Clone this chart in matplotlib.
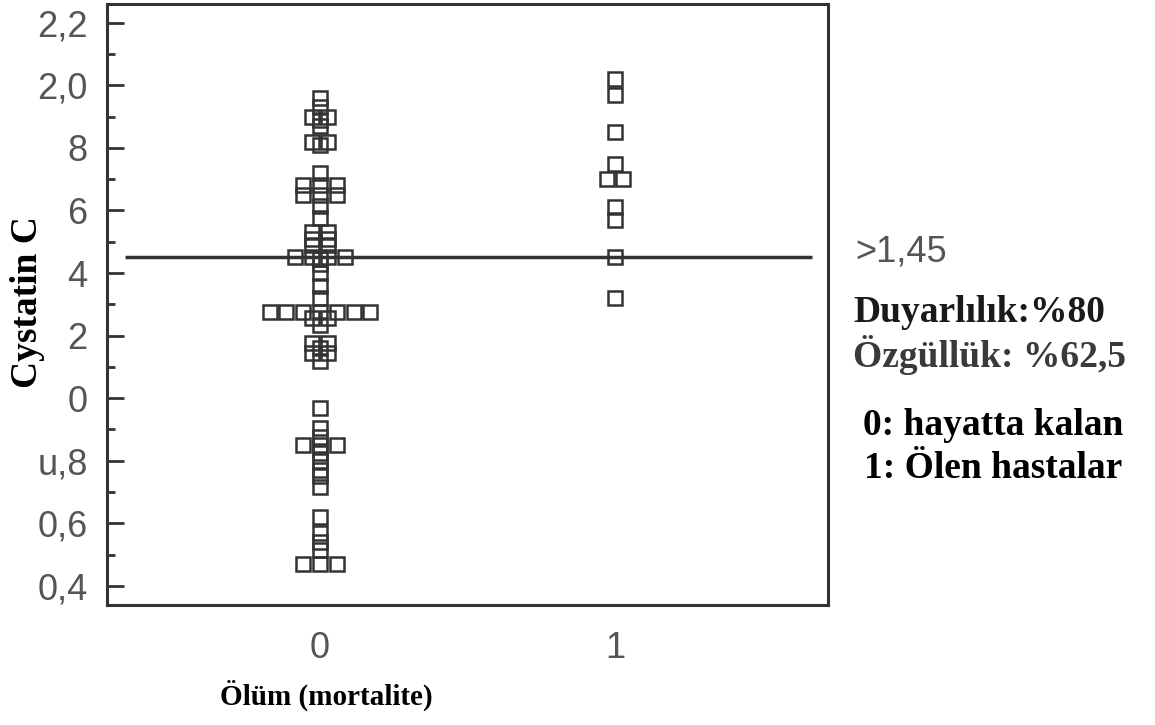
import numpy as np
import matplotlib
matplotlib.use("Agg")
import matplotlib.pyplot as plt
from matplotlib.ticker import FixedLocator, MultipleLocator

# Cystatin C values per outcome group (0 = survivors, 1 = deceased)
group_codes = [0, 1]
group_labels = ["0", "1"]
cystatin_survivors = [
    1.96, 1.93, 1.90, 1.90, 1.89, 1.87, 1.82, 1.82, 1.81, 1.72,
    1.68, 1.68, 1.68, 1.65, 1.65, 1.65, 1.615, 1.575,
    1.53, 1.53, 1.51, 1.51, 1.49, 1.49,
    1.45, 1.45, 1.45, 1.45, 1.445, 1.43, 1.40, 1.36, 1.32,
    1.275, 1.275, 1.275, 1.275, 1.275, 1.275, 1.275,
    1.255, 1.255, 1.233, 1.175, 1.175, 1.16, 1.145, 1.145, 1.12,
    0.97, 0.905, 0.875, 0.85, 0.85, 0.85, 0.825, 0.80, 0.77, 0.75, 0.715,
    0.62, 0.57, 0.54, 0.515, 0.47, 0.47, 0.47,
]
cystatin_deceased = [2.02, 1.97, 1.85, 1.75, 1.70, 1.70, 1.61, 1.57, 1.45, 1.32]

cutoff = 1.45
cutoff_label = ">1,45"
sensitivity_text = "Duyarlılık:%80"
specificity_text = "Özgüllük: %62,5"
legend_lines = ["0: hayatta kalan", "1: Ölen hastalar"]

ytick_values = [0.4, 0.6, 0.8, 1.0, 1.2, 1.4, 1.6, 1.8, 2.0, 2.2]
ytick_labels = ["0,4", "0,6", "u,8", "0", "2", "4", "6", "8", "2,0", "2,2"]

W, H = 1155, 725
fig = plt.figure(figsize=(W / 100, H / 100), dpi=100)
ax = fig.add_axes([107 / W, 1 - 605 / H, (828 - 107) / W, (605 - 4) / H])

dark = "#333333"
gray = "#555555"
step = 0.057


def dot_offsets(values, step):
    """Spread tied values side by side around the group centre."""
    values = np.asarray(values, dtype=float)
    offsets = np.zeros_like(values)
    for v in np.unique(values):
        idx = np.where(np.isclose(values, v))[0]
        k = len(idx)
        offsets[idx] = (np.arange(k) - (k - 1) / 2) * step
    return offsets


for code, vals in zip(group_codes, [cystatin_survivors, cystatin_deceased]):
    xs = code + dot_offsets(vals, step)
    ax.plot(xs, vals, linestyle="none", marker="s", markersize=9.5,
            markerfacecolor="none", markeredgecolor=dark,
            markeredgewidth=1.8, zorder=3)

# cut-off line
ax.plot([-0.661, 1.668], [cutoff, cutoff], color=dark, lw=2.5, zorder=2,
        solid_capstyle="butt")

ax.set_xlim(-0.722, 1.722)
ax.set_ylim(0.339, 2.26)

for s in ax.spines.values():
    s.set_color(dark)
    s.set_linewidth(2.2)

ax.yaxis.set_major_locator(FixedLocator(ytick_values))
ax.set_yticklabels(ytick_labels)
ax.yaxis.set_minor_locator(MultipleLocator(0.1))
ax.tick_params(axis="y", which="major", direction="in", length=12, width=2.0,
               color=dark, pad=14, labelsize=26, labelcolor=gray)
ax.tick_params(axis="y", which="minor", direction="in", length=6, width=2.0,
               color=dark)
ax.set_xticks(group_codes)
ax.set_xticklabels(group_labels)
ax.tick_params(axis="x", which="both", length=0, pad=19, labelsize=26,
               labelcolor=gray)
for lbl in ax.get_xticklabels() + ax.get_yticklabels():
    lbl.set_fontfamily("Liberation Sans")

ax.set_ylabel("Cystatin C", fontfamily="Liberation Serif", fontweight="bold",
              fontsize=27, color="black")
ax.yaxis.set_label_coords(-0.086, 0.504)
ax.set_xlabel("Ölüm (mortalite)", fontfamily="Liberation Serif",
              fontweight="bold", fontsize=21, color="black")
ax.xaxis.set_label_coords(0.304, -0.124)


def fx(px):
    return px / W


def fy(py):
    return 1 - py / H


fig.text(fx(855), fy(262), cutoff_label, fontfamily="Liberation Sans",
         fontsize=26, color=gray, va="baseline", ha="left")
fig.text(fx(853), fy(322), sensitivity_text, fontfamily="Liberation Serif",
         fontweight="bold", fontsize=27, color="#1a1a1a", va="baseline",
         ha="left")
fig.text(fx(853), fy(367), specificity_text, fontfamily="Liberation Serif",
         fontweight="bold", fontsize=27, color="#3a3a3a", va="baseline",
         ha="left")
fig.text(fx(993), fy(435), legend_lines[0], fontfamily="Liberation Serif",
         fontweight="bold", fontsize=27, color="black", va="baseline",
         ha="center")
fig.text(fx(993), fy(478), legend_lines[1], fontfamily="Liberation Serif",
         fontweight="bold", fontsize=27, color="black", va="baseline",
         ha="center")

fig.savefig("out.png", dpi=100)
